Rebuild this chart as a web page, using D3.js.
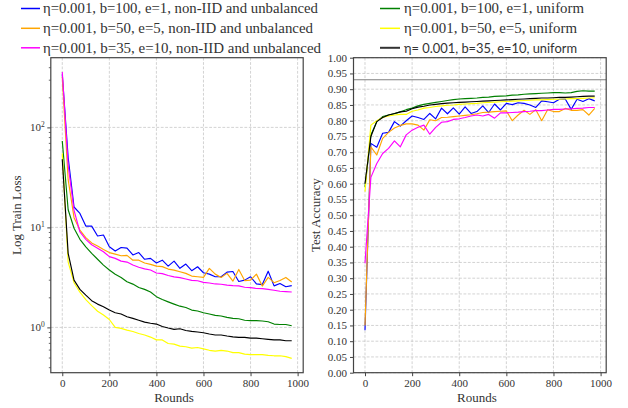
<!DOCTYPE html>
<html><head><meta charset="utf-8">
<script src="https://cdn.jsdelivr.net/npm/d3@7"></script>
<style>
body{margin:0;background:#fff;}
svg{display:block;}
text{font-family:"Liberation Serif","DejaVu Serif",serif;}
</style></head>
<body><svg id="c" width="628" height="408"></svg>
<script>
const rounds = [0,25,50,75,100,125,150,175,200,225,250,275,300,325,350,375,400,425,450,475,500,525,550,575,600,625,650,675,700,725,750,775,800,825,850,875,900,925,950,975];

const seriesLabels = [
  "η=0.001, b=100, e=1, non-IID and unbalanced",
  "η=0.001, b=50, e=5, non-IID and unbalanced",
  "η=0.001, b=35, e=10, non-IID and unbalanced",
  "η=0.001, b=100, e=1, uniform",
  "η=0.001, b=50, e=5, uniform",
  "η= 0.001, b=35, e=10, uniform"
];
const seriesColors = ["#0000ff","#ffa500","#ff00ff","#008000","#ffff00","#000000"];

// Train loss (log scale)
const lossBlue = [340,50,16,13.8,10.3,10.3,8.2,8.4,6.4,5.8,6.3,6.2,5.3,5.6,4.8,4.9,4.4,4.7,4.1,4.6,3.9,4.3,3.69,4.04,3.52,3.41,3.21,3.21,3.57,3.62,2.88,2.97,3.21,2.72,2.68,3.65,2.6,2.75,2.55,2.62];
const lossOrange = [320,30,12.5,9.4,7.9,7.0,6.5,6.0,5.6,5.4,5.2,5.25,4.7,4.7,4.4,4.27,4.1,4.05,3.83,3.74,3.6,3.47,3.26,3.21,3.16,3.89,3.41,3.16,3.47,2.9,3.8,2.94,2.97,3.41,2.59,3.16,2.8,2.94,3.16,2.84];
const lossMagenta = [358,42,14.8,9.0,7.6,6.7,6.2,5.7,5.1,4.9,4.6,4.5,4.2,4.0,3.85,3.75,3.5,3.45,3.3,3.2,3.15,3.05,2.95,2.93,2.82,2.78,2.72,2.7,2.65,2.62,2.6,2.52,2.5,2.45,2.44,2.4,2.35,2.3,2.28,2.26];
const lossGreen = [73,15,9.8,7.6,6.4,5.5,4.8,4.2,3.75,3.4,3.16,2.86,2.71,2.51,2.4,2.26,2.03,1.9,1.8,1.71,1.63,1.58,1.49,1.46,1.40,1.36,1.32,1.30,1.26,1.23,1.22,1.18,1.17,1.17,1.16,1.14,1.08,1.07,1.07,1.04];
const lossYellow = [55,4.5,2.8,2.25,1.9,1.65,1.45,1.33,1.2,1.0,0.977,0.94,0.91,0.87,0.84,0.8,0.75,0.75,0.69,0.68,0.65,0.64,0.62,0.63,0.61,0.59,0.58,0.59,0.58,0.56,0.56,0.54,0.535,0.535,0.535,0.525,0.52,0.52,0.51,0.49];
const lossBlack = [48,5.5,2.97,2.4,2.1,1.85,1.71,1.61,1.49,1.40,1.36,1.28,1.23,1.18,1.13,1.10,1.08,1.02,0.985,0.955,0.97,0.93,0.912,0.9,0.885,0.86,0.84,0.84,0.82,0.805,0.795,0.795,0.78,0.78,0.77,0.76,0.75,0.75,0.735,0.735];

// Test accuracy
const accBlue = [0.135,0.728,0.716,0.76,0.763,0.797,0.783,0.8,0.815,0.81,0.804,0.823,0.806,0.84,0.822,0.841,0.821,0.844,0.823,0.829,0.847,0.826,0.853,0.834,0.855,0.851,0.857,0.855,0.85,0.842,0.863,0.86,0.857,0.868,0.869,0.836,0.868,0.861,0.87,0.863];
const accOrange = [0.15,0.717,0.691,0.744,0.763,0.777,0.785,0.79,0.79,0.786,0.77,0.803,0.8,0.81,0.811,0.813,0.815,0.817,0.819,0.822,0.826,0.827,0.829,0.83,0.831,0.80,0.818,0.833,0.82,0.835,0.80,0.835,0.829,0.829,0.839,0.833,0.833,0.835,0.818,0.839];
const accMagenta = [0.347,0.62,0.664,0.696,0.712,0.736,0.717,0.755,0.77,0.779,0.786,0.757,0.779,0.795,0.797,0.804,0.806,0.81,0.815,0.818,0.815,0.82,0.808,0.825,0.825,0.826,0.827,0.829,0.83,0.832,0.832,0.834,0.836,0.836,0.837,0.838,0.839,0.84,0.842,0.842];
const accGreen = [0.59,0.755,0.797,0.813,0.818,0.822,0.828,0.835,0.84,0.847,0.852,0.855,0.858,0.861,0.864,0.867,0.869,0.87,0.871,0.872,0.874,0.875,0.877,0.878,0.879,0.881,0.882,0.884,0.885,0.886,0.887,0.888,0.889,0.889,0.888,0.889,0.893,0.895,0.894,0.894];
const accYellow = [0.575,0.786,0.80,0.81,0.815,0.818,0.82,0.82,0.83,0.834,0.84,0.842,0.845,0.847,0.849,0.85,0.852,0.853,0.854,0.855,0.857,0.858,0.859,0.86,0.861,0.862,0.863,0.864,0.865,0.866,0.866,0.867,0.868,0.868,0.869,0.87,0.87,0.871,0.872,0.873];
const accBlack = [0.60,0.75,0.797,0.81,0.818,0.823,0.828,0.83,0.838,0.843,0.846,0.85,0.852,0.854,0.856,0.857,0.858,0.859,0.86,0.861,0.862,0.863,0.864,0.865,0.866,0.867,0.868,0.869,0.87,0.871,0.872,0.872,0.873,0.874,0.874,0.875,0.876,0.877,0.878,0.878];

const targetAccuracy = 0.93;
const xTicks = [0,200,400,600,800,1000];
const lossMajorTicks = [1,10,100];
const lossMinorTicks = [0.4,0.5,0.6,0.7,0.8,0.9,2,3,4,5,6,7,8,9,20,30,40,50,60,70,80,90,200,300,400];
const lossTickExp = ["0","1","2"];
const accTicks = [0,0.05,0.1,0.15,0.2,0.25,0.3,0.35,0.4,0.45,0.5,0.55,0.6,0.65,0.7,0.75,0.8,0.85,0.9,0.95,1.0];

const lossSeries = [lossBlue,lossOrange,lossMagenta,lossGreen,lossYellow,lossBlack];
const accSeries = [accBlue,accOrange,accMagenta,accGreen,accYellow,accBlack];

const SERIF = "'Liberation Serif','DejaVu Serif',serif";
const svg = d3.select("#c");
const axisColor = "#444", textColor = "#333", gridColor = "#c8c8c8";
const plotTop = 57.7, plotBottom = 372.7;

const xL = d3.scaleLinear().domain([-48.75,1023.75]).range([50.8,303.2]);
const yL = d3.scaleLog().domain([Math.pow(10,-0.453),Math.pow(10,2.697)]).range([plotBottom,plotTop]);
const xR = d3.scaleLinear().domain([-48.75,1023.75]).range([353.5,606.2]);
const yR = d3.scaleLinear().domain([0,1]).range([plotBottom,plotTop]);

function grid(x,y,xv,yv){
  const g = svg.append("g");
  g.selectAll(".gx").data(xv).join("line")
    .attr("x1",d=>x(d)).attr("x2",d=>x(d)).attr("y1",plotTop).attr("y2",plotBottom)
    .attr("stroke",gridColor).attr("stroke-width",0.8).attr("stroke-dasharray","2.8,1.6");
  g.selectAll(".gy").data(yv).join("line")
    .attr("x1",x.range()[0]).attr("x2",x.range()[1]).attr("y1",d=>y(d)).attr("y2",d=>y(d))
    .attr("stroke",gridColor).attr("stroke-width",0.8).attr("stroke-dasharray","2.8,1.6");
}
grid(xL,yL,xTicks,lossMajorTicks);
grid(xR,yR,xTicks,accTicks);

svg.append("line").attr("x1",xR.range()[0]).attr("x2",xR.range()[1])
  .attr("y1",yR(targetAccuracy)).attr("y2",yR(targetAccuracy))
  .attr("stroke","#808080").attr("stroke-width",1.1);

function drawLines(x,y,series){
  const line = d3.line().x((d,i)=>x(rounds[i])).y(d=>y(d));
  series.forEach((s,i)=>{
    svg.append("path").datum(s).attr("d",line).attr("fill","none")
      .attr("stroke",seriesColors[i]).attr("stroke-width",1.15).attr("stroke-linejoin","round");
  });
}
drawLines(xL,yL,lossSeries);
drawLines(xR,yR,accSeries);

function frame(x){
  svg.append("rect").attr("x",x.range()[0]).attr("y",plotTop)
    .attr("width",x.range()[1]-x.range()[0]).attr("height",plotBottom-plotTop)
    .attr("fill","none").attr("stroke",axisColor).attr("stroke-width",1.2);
}
frame(xL); frame(xR);

function xAxis(x){
  const g = svg.append("g").attr("transform",`translate(0,${plotBottom})`)
    .call(d3.axisBottom(x).tickValues(xTicks).tickSize(3.5).tickPadding(3).tickFormat(d3.format("d")));
  g.attr("font-family",null).attr("font-size",null);
  g.select(".domain").remove();
  g.selectAll("line").attr("stroke",axisColor).attr("stroke-width",1);
  g.selectAll("text").attr("fill",textColor).style("font-size","11px").style("font-family",SERIF);
}
xAxis(xL); xAxis(xR);

const gMinor = svg.append("g").attr("transform",`translate(${xL.range()[0]},0)`)
  .call(d3.axisLeft(yL).tickValues(lossMinorTicks).tickSize(2).tickFormat(""));
gMinor.select(".domain").remove();
gMinor.selectAll("line").attr("stroke",axisColor).attr("stroke-width",0.8);
const gMajor = svg.append("g").attr("transform",`translate(${xL.range()[0]},0)`)
  .call(d3.axisLeft(yL).tickValues(lossMajorTicks).tickSize(3.5).tickFormat(""));
gMajor.select(".domain").remove();
gMajor.selectAll("line").attr("stroke",axisColor).attr("stroke-width",1);
lossMajorTicks.forEach((v,i)=>{
  const t = svg.append("text").attr("x",xL.range()[0]-6).attr("y",yL(v)+4)
    .attr("text-anchor","end").attr("fill",textColor).style("font-size","11px").style("font-family",SERIF);
  t.append("tspan").text("10");
  t.append("tspan").attr("dy",-4.5).style("font-size","7.5px").text(lossTickExp[i]);
});

const gR = svg.append("g").attr("transform",`translate(${xR.range()[0]},0)`)
  .call(d3.axisLeft(yR).tickValues(accTicks).tickSize(3.5).tickPadding(3).tickFormat(d3.format(".2f")));
gR.attr("font-family",null).attr("font-size",null);
gR.select(".domain").remove();
gR.selectAll("line").attr("stroke",axisColor).attr("stroke-width",1);
gR.selectAll("text").attr("fill",textColor).style("font-size","11px").style("font-family",SERIF);

function label(x,y,rot,txt){
  svg.append("text").attr("transform",`translate(${x},${y})${rot?" rotate(-90)":""}`)
    .attr("text-anchor","middle").attr("fill",textColor)
    .style("font-size","13px").style("font-family",SERIF).text(txt);
}
label(xL(475),402,false,"Rounds");
label(xR(475),402,false,"Rounds");
label(21,(plotTop+plotBottom)/2,true,"Log Train Loss");
label(320,(plotTop+plotBottom)/2,true,"Test Accuracy");

const legendRows = [8.5,28.3,47.8];
const legendCols = [{x1:21,x2:40,tx:43},{x1:380,x2:400,tx:404}];
const legendWidths = [275,270,278,180,173,173];
seriesLabels.forEach((lab,i)=>{
  const col = legendCols[Math.floor(i/3)], ry = legendRows[i%3];
  const lastBlack = i===5;
  svg.append("line").attr("x1",col.x1).attr("x2",col.x2).attr("y1",ry).attr("y2",ry)
    .attr("stroke",lastBlack?"#333":seriesColors[i]).attr("stroke-width",lastBlack?2:1.5);
  svg.append("text").attr("x",col.tx).attr("y",ry+(lastBlack?4.8:4.8)).attr("fill",textColor)
    .attr("textLength",legendWidths[i]).attr("lengthAdjust","spacingAndGlyphs")
    .style("font-size","14px")
    .style("font-family",lastBlack?"Lato,'Open Sans',sans-serif":SERIF)
    .text(lab);
});
</script></body></html>
